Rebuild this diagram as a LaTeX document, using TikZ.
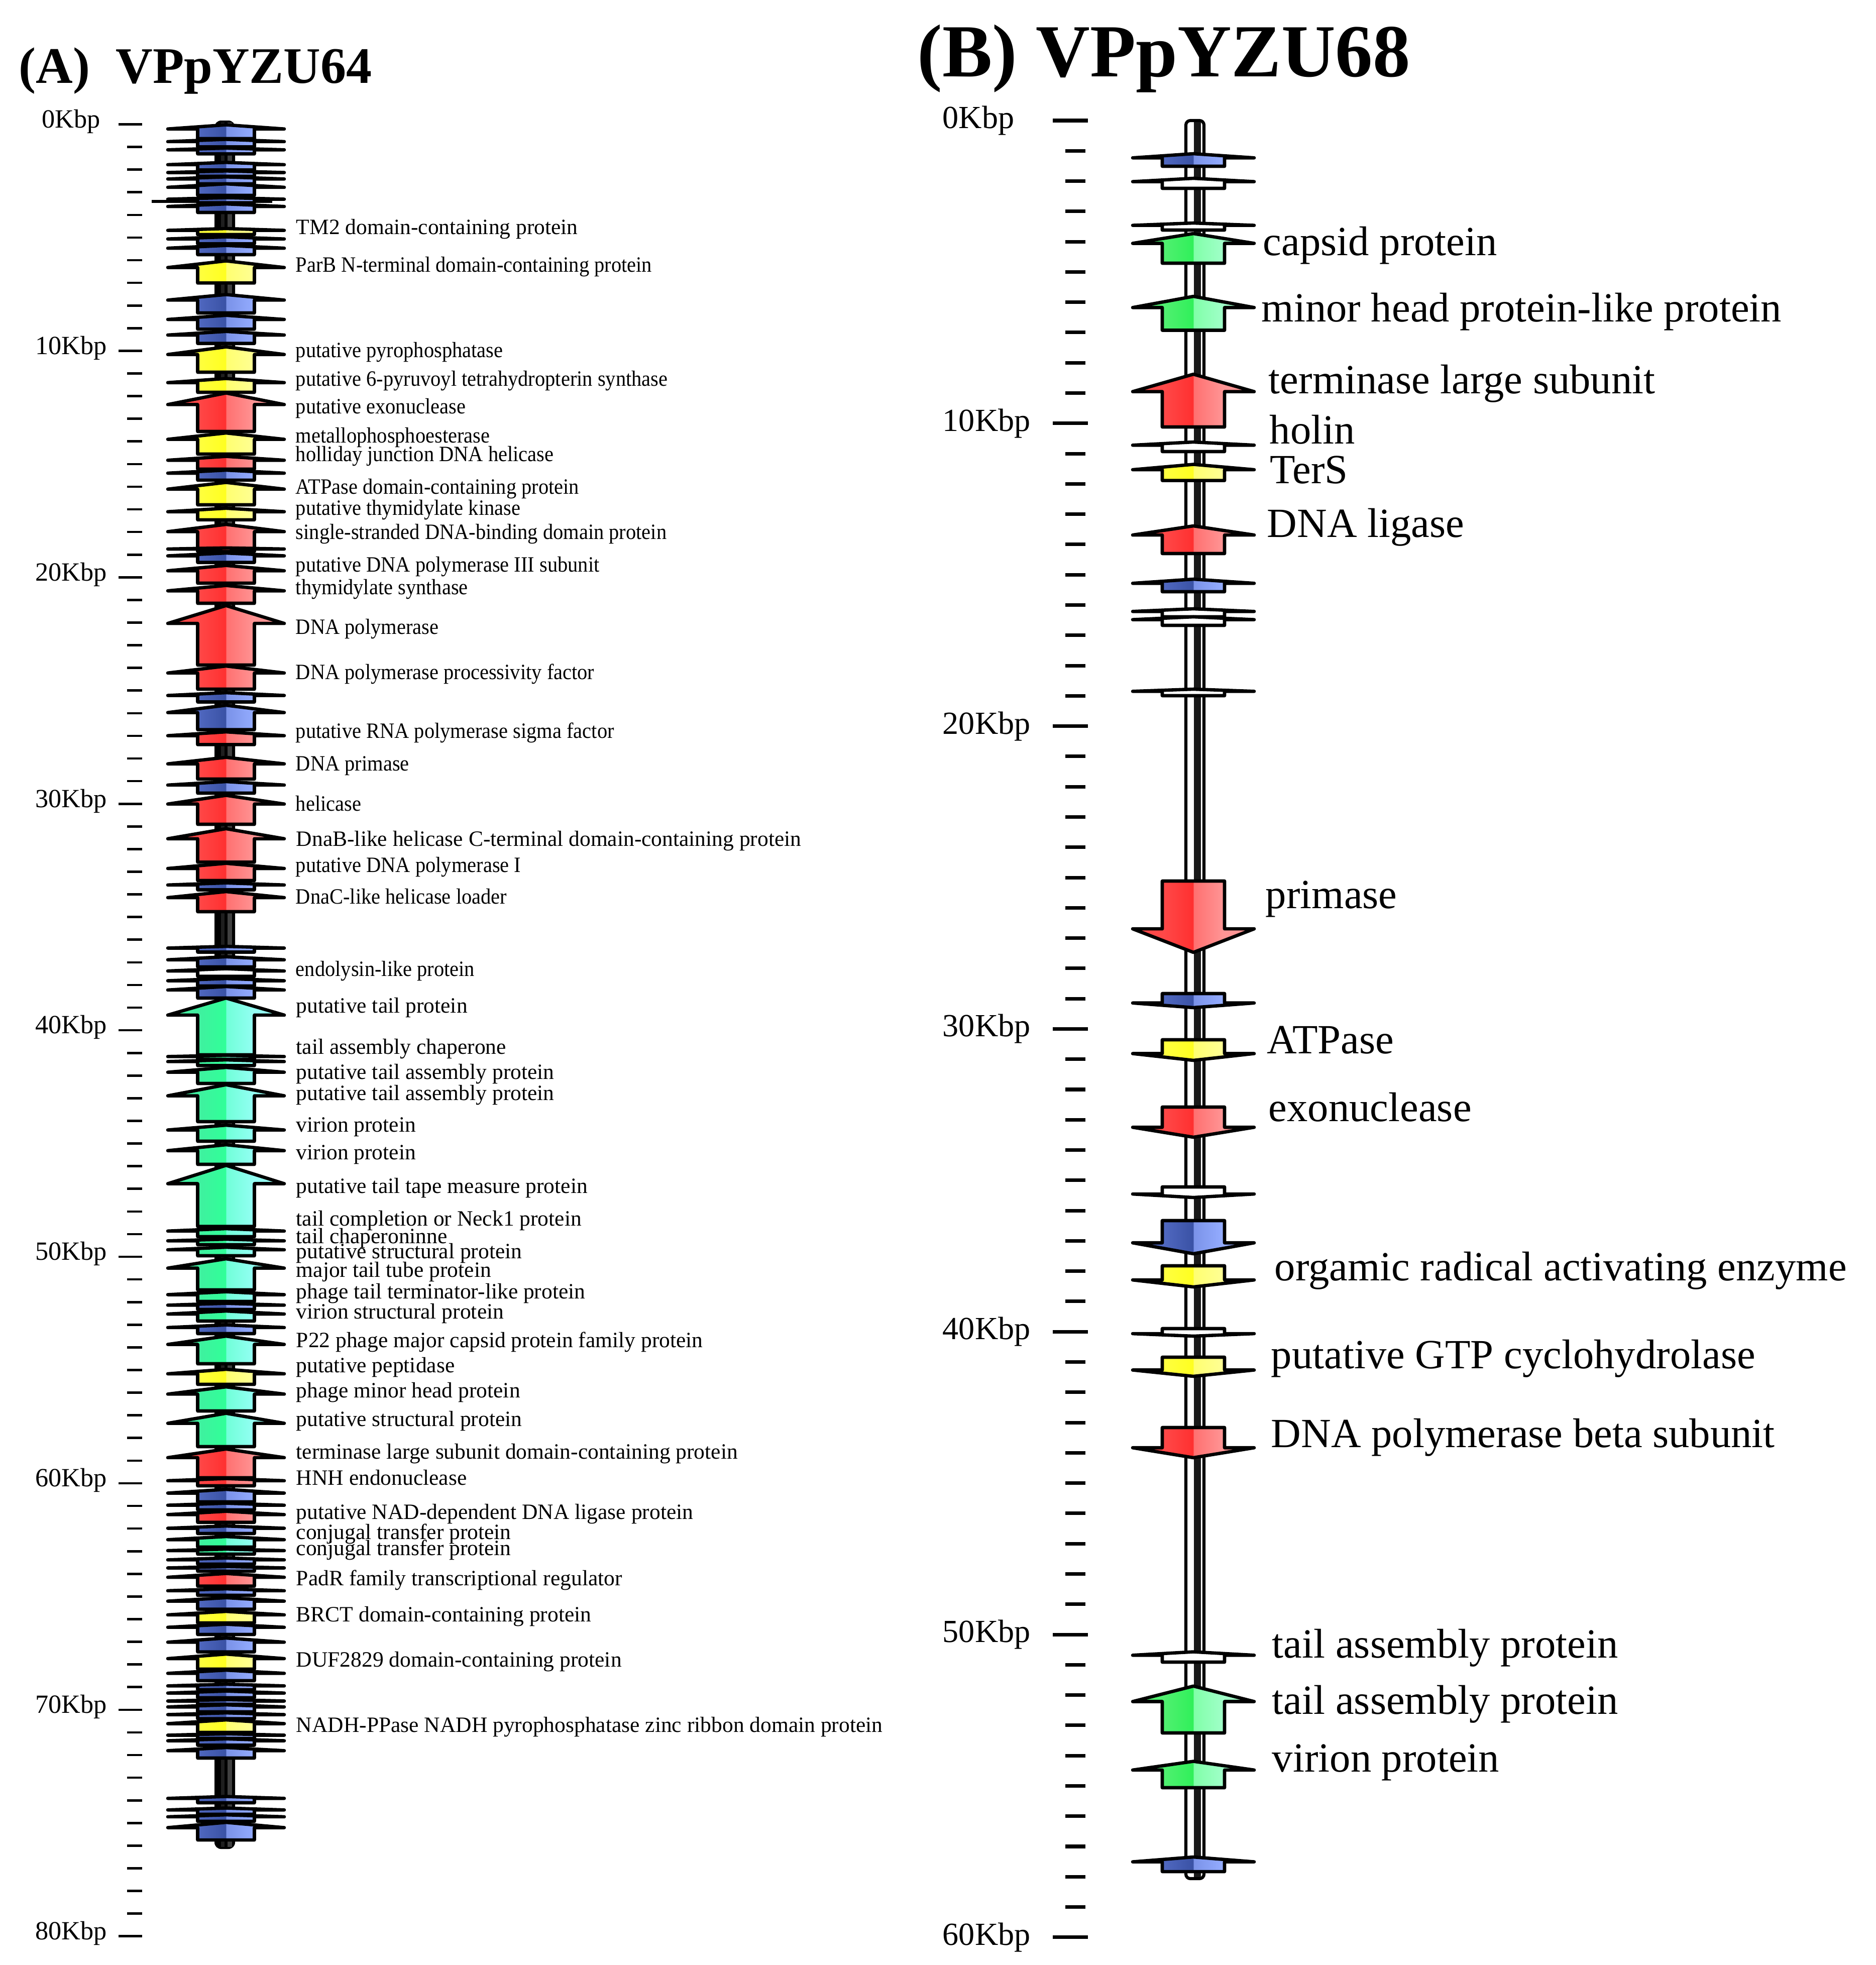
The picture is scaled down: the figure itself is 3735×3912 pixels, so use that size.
\documentclass[tikz,border=0pt]{standalone}
\usepackage{fontspec}
\setmainfont{Liberation Serif}

\definecolor{bl1}{HTML}{5068C0}\definecolor{bl2}{HTML}{3A52A5}
\definecolor{bl3}{HTML}{7A92E8}\definecolor{bl4}{HTML}{94ACFF}
\definecolor{rd1}{HTML}{FF4848}\definecolor{rd2}{HTML}{FF3030}
\definecolor{rd3}{HTML}{FF7070}\definecolor{rd4}{HTML}{FF9494}
\definecolor{ye1}{HTML}{FFFF40}\definecolor{ye2}{HTML}{FFFF20}
\definecolor{ye3}{HTML}{FFFF70}\definecolor{ye4}{HTML}{FFFF94}
\definecolor{aq1}{HTML}{40F0A0}\definecolor{aq2}{HTML}{30FF98}
\definecolor{aq3}{HTML}{70FFD8}\definecolor{aq4}{HTML}{94FFF4}
\definecolor{gr1}{HTML}{50F070}\definecolor{gr2}{HTML}{30F05A}
\definecolor{gr3}{HTML}{80FFA8}\definecolor{gr4}{HTML}{A0FFC8}

\pgfdeclarehorizontalshading{shB}{100bp}{color(0bp)=(bl1); color(38bp)=(bl1); color(49.9bp)=(bl2); color(50.1bp)=(bl3); color(62bp)=(bl4); color(100bp)=(bl4)}
\pgfdeclarehorizontalshading{shR}{100bp}{color(0bp)=(rd1); color(38bp)=(rd1); color(49.9bp)=(rd2); color(50.1bp)=(rd3); color(62bp)=(rd4); color(100bp)=(rd4)}
\pgfdeclarehorizontalshading{shY}{100bp}{color(0bp)=(ye1); color(38bp)=(ye1); color(49.9bp)=(ye2); color(50.1bp)=(ye3); color(62bp)=(ye4); color(100bp)=(ye4)}
\pgfdeclarehorizontalshading{shA}{100bp}{color(0bp)=(aq1); color(38bp)=(aq1); color(49.9bp)=(aq2); color(50.1bp)=(aq3); color(62bp)=(aq4); color(100bp)=(aq4)}
\pgfdeclarehorizontalshading{shG}{100bp}{color(0bp)=(gr1); color(38bp)=(gr1); color(49.9bp)=(gr2); color(50.1bp)=(gr3); color(62bp)=(gr4); color(100bp)=(gr4)}
\pgfdeclarehorizontalshading{shW}{100bp}{color(0bp)=(white); color(100bp)=(white)}

% gene arrows: apex/bottom (up) or top/apex (down)
\newcommand{\geneup}[3]{%
  \pgfmathsetmacro{\yw}{#1+\hd*(#2-#1)}%
  \draw[gene,shading=sh#3] (\xc-\bw,#2) -- (\xc-\bw,\yw) -- (\xc-\ww,\yw) -- (\xc,#1)
    -- (\xc+\ww,\yw) -- (\xc+\bw,\yw) -- (\xc+\bw,#2) -- cycle;}
\newcommand{\genedn}[3]{%
  \pgfmathsetmacro{\yw}{#2-\hd*(#2-#1)}%
  \draw[gene,shading=sh#3] (\xc-\bw,#1) -- (\xc-\bw,\yw) -- (\xc-\ww,\yw) -- (\xc,#2)
    -- (\xc+\ww,\yw) -- (\xc+\bw,\yw) -- (\xc+\bw,#1) -- cycle;}

\begin{document}
\begin{tikzpicture}[x=0.008cm, y=-0.008cm,
  gene/.style={draw=black, line width=1.5pt, line join=round, shade},
  labA/.style={anchor=west, inner sep=0pt, font=\fontsize{9.9}{11}\selectfont, text height=6.7pt, text depth=2pt},
  labB/.style={anchor=west, inner sep=0pt, font=\fontsize{18.8}{21}\selectfont, text height=12.8pt, text depth=3.8pt},
  axA/.style={inner sep=0pt, font=\fontsize{11.9}{13}\selectfont, text height=8pt, text depth=2.4pt},
  axB/.style={anchor=west, inner sep=0pt, font=\fontsize{14.6}{16}\selectfont, text height=9.9pt, text depth=2.9pt},
  title/.style={anchor=base west, inner sep=0pt, font=\bfseries}]
\useasboundingbox (0,0) rectangle (3735,3912);

% ---------- (A) VPpYZU64 ----------
\node[title, font=\bfseries\fontsize{23.2}{26}\selectfont] (titA) at (37,165) {(A)~~VPpYZU64};

\foreach \k in {0,...,80}
  \draw[line width=1.05pt] (253,247.5+45.09*\k) -- (283,247.5+45.09*\k);
\foreach \k in {0,10,...,80} {
  \draw[line width=1.05pt] (236,247.5+45.09*\k) -- (283,247.5+45.09*\k);
  \node[axA] (axa\k) at (141.5,242+45.09*\k) {\k Kbp};
}

\fill[black, rounded corners=3] (427,240) rectangle (468,3681);
\fill[black!88] (440,244) rectangle (447,3677);
\fill[black!75] (453,244) rectangle (462,3677);
\draw[line width=1.3pt] (302,401) -- (542,401);

\def\xc{450}\def\bw{56.5}\def\ww{116}\def\hd{0.3}
\foreach \a/\b/\c in {248.5/276/B, 277.4/292.5/B, 294.8/306.3/B, 323.3/338.5/B, 340.3/350.9/B,
  352.2/366/B, 366/389/B, 393.5/403.7/B, 406/423/B, 455/467/Y, 471.6/485.4/B, 488.6/507/B,
  519.4/563.4/Y, 586.4/623/B, 627.7/655.3/B, 659.8/683.7/B, 690.6/741/Y, 753.5/781/Y,
  782.4/859/R, 862/904/Y, 908.6/934/R, 936/955.8/B, 960.4/1005/Y, 1011.8/1034.8/Y,
  1044/1092/R, 1090.8/1098/R, 1101/1119.7/B, 1125.7/1161/R, 1165.6/1201/R, 1205.6/1324/R,
  1326/1372/R, 1379/1397.5/B, 1404/1452.6/B, 1457/1482.4/R, 1507.7/1551/R, 1556/1579/B,
  1583.4/1641/R, 1649.8/1716.4/R, 1718.7/1753/R, 1757.7/1771.5/B, 1775/1815/R,
  1884/1895.5/B, 1904.7/1925/B, 1928.5/1943.7/W, 1948/1963/B, 1964/1987/B,
  1987/2100/A, 2101/2109/A, 2110/2121.4/A, 2125/2157/A, 2159.5/2233/A, 2240/2272/A,
  2279/2318/A, 2320/2441.7/A, 2446/2462/A, 2467/2478/A, 2483/2500/A, 2506/2568/A,
  2571.6/2591/A, 2594.6/2607/B, 2610/2630/A, 2637.7/2655/B, 2660/2715/A, 2726/2756/Y,
  2761/2809/A, 2813.6/2880/A, 2884.7/2942/R, 2943.5/2958/R, 2965/2990/B, 2992.6/3006/B,
  3008.7/3030.7/R, 3038/3053/B, 3059/3080/A, 3084/3094/A, 3101.7/3114/B, 3118.7/3128/B,
  3132.5/3157.7/R, 3163/3176/B, 3180.7/3203.7/B, 3208/3231/Y, 3233.5/3254/B, 3261/3288.6/B,
  3293/3323/Y, 3325/3346/B, 3353/3364/B, 3366.6/3380/B, 3383.6/3393/B, 3394/3408/B,
  3410/3421.7/B, 3424/3449/Y, 3451.6/3461/B, 3461.7/3474.5/B, 3479/3500/B,
  3576.5/3589/B, 3599.5/3612/B, 3613/3626/B, 3628/3663/B}
  \geneup{\a}{\b}{\c};

% upper labels are set a little narrower
\foreach \y/\t [count=\i] in {531.4/ParB N-terminal domain-containing protein,
  701/putative pyrophosphatase,
  758.5/putative 6-pyruvoyl tetrahydropterin synthase,
  813.4/putative exonuclease,
  870.8/metallophosphoesterase,
  908.2/holliday junction DNA helicase,
  973/ATPase domain-containing protein,
  1015.5/putative thymidylate kinase,
  1063/single-stranded DNA-binding domain protein,
  1127.7/putative DNA polymerase III subunit,
  1172.7/thymidylate synthase,
  1252.5/DNA polymerase,
  1342.3/DNA polymerase processivity factor,
  1459.6/putative RNA polymerase sigma factor,
  1524.4/DNA primase,
  1604.3/helicase,
  1726.5/putative DNA polymerase I,
  1789/DnaC-like helicase loader,
  1933.6/endolysin-like protein}
  \node[labA] (lan\i) at (588,\y) {\scalebox{0.93}[1]{\t}};

\foreach \y/\t [count=\i] in {456.6/TM2 domain-containing protein,
  1674.1/DnaB-like helicase C-terminal domain-containing protein,
  2006/putative tail protein,
  2088.3/tail assembly chaperone,
  2138.2/putative tail assembly protein,
  2180.6/putative tail assembly protein,
  2243/virion protein,
  2297.9/virion protein,
  2365.3/putative tail tape measure protein,
  2430.1/tail completion or Neck1 protein,
  2465/tail chaperoninne,
  2495/putative structural protein,
  2532.4/major tail tube protein,
  2574.8/phage tail terminator-like protein,
  2614.8/virion structural protein,
  2672.1/P22 phage major capsid protein family protein,
  2722/putative peptidase,
  2772/phage minor head protein,
  2829.3/putative structural protein,
  2894.2/terminase large subunit domain-containing protein,
  2946.6/HNH endonuclease,
  3014/putative NAD-dependent DNA ligase protein,
  3053.9/conjugal transfer protein,
  3086.3/conjugal transfer protein,
  3146.2/PadR family transcriptional regulator,
  3218.6/BRCT domain-containing protein,
  3308.4/DUF2829 domain-containing protein,
  3438.1/NADH-PPase NADH pyrophosphatase zinc ribbon domain protein}
  \node[labA] (la\i) at (589,\y) {\t};

% ---------- (B) VPpYZU68 ----------
\node[title, font=\bfseries\fontsize{33.9}{38}\selectfont] (titB) at (1826,152) {(B) VPpYZU68};

\foreach \k in {0,...,60}
  \draw[line width=1.6pt] (2121,240+60.28*\k) -- (2161,240+60.28*\k);
\foreach \k in {0,10,...,60} {
  \draw[line width=1.6pt] (2096,240+60.28*\k) -- (2166,240+60.28*\k);
  \node[axB] (axb\k) at (1876,240+60.28*\k) {\k Kbp};
}

\draw[line width=1.4pt, fill=white, rounded corners=2] (2361,240) rectangle (2397,3740);
\fill[black!90] (2377,243) rectangle (2391,3737);

\def\xc{2376}\def\bw{62}\def\ww{121}\def\hd{0.33}
\foreach \a/\b/\c in {306/331/B, 355/375/W, 444/458/W, 465/524/G, 590/657.5/G, 745/850/R,
  880/899/W, 924.5/956.6/Y, 1047/1102/R, 1153/1178/B, 1212/1228/W, 1228/1245/W,
  1372/1385/W, 3288.5/3309/W, 3356.7/3450/G, 3506.5/3559/G, 3697/3726/B}
  \geneup{\a}{\b}{\c};
\foreach \a/\b/\c in {1754/1896/R, 1978/2006/B, 2070/2111/Y, 2204/2264/R, 2363/2384/W,
  2430/2496/B, 2520/2562/Y, 2645/2660/W, 2702/2740/Y, 2842/2902/R}
  \genedn{\a}{\b}{\c};

\foreach \x/\y/\t [count=\i] in {2514/489/capsid protein,
  2511/621/minor head protein-like protein,
  2525/764/terminase large subunit,
  2527/864/holin,
  2528/943/TerS,
  2522/1050/DNA ligase,
  2519/1789/primase,
  2522/2078/ATPase,
  2525/2213/exonuclease,
  2537/2530/orgamic radical activating enzyme,
  2530/2705/putative GTP cyclohydrolase,
  2530/2862/DNA polymerase beta subunit,
  2532/3281/tail assembly protein,
  2532/3393/tail assembly protein,
  2532/3508/virion protein}
  \node[labB] (lb\i) at (\x,\y) {\t};
\end{tikzpicture}
\end{document}
